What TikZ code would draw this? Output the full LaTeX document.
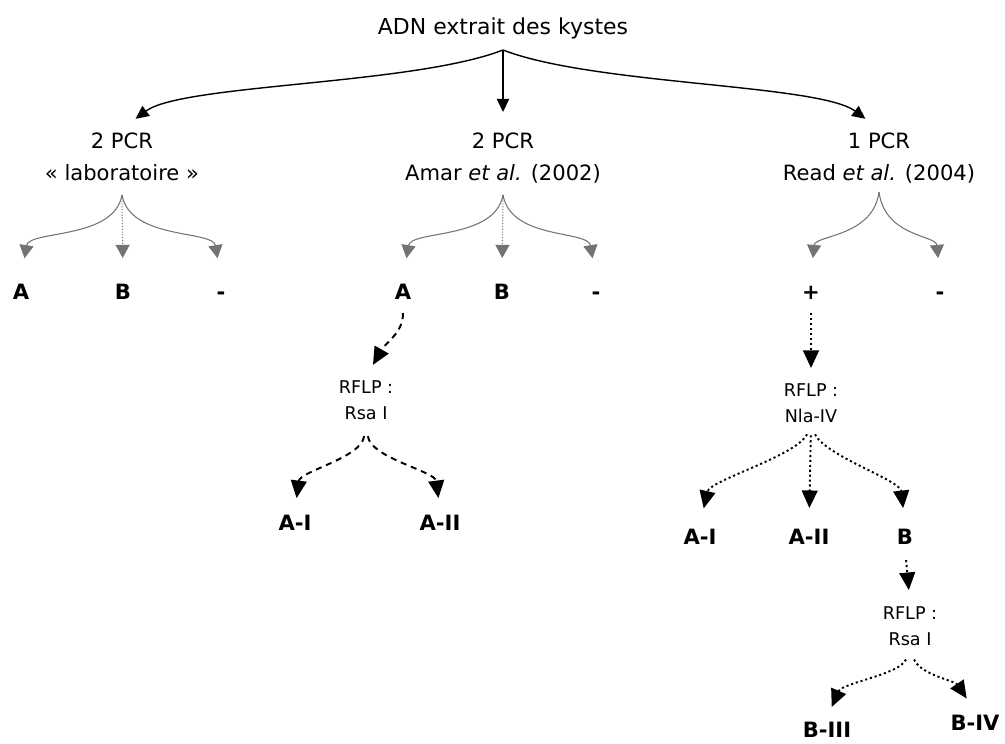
\documentclass[tikz,border=0pt]{standalone}
\usepackage{fontspec}
\setmainfont{DejaVu Sans}
\usetikzlibrary{arrows.meta}

\begin{document}
\begin{tikzpicture}[x = 0.2mm, y = -0.2mm, > = {Triangle[length = 7.5pt, width = 7pt]},
	every node/.style = {inner sep = 2pt},
	pcrnode/.style = {anchor = north, align = center, font = \fontsize{12}{18}\selectfont},
	rflpnode/.style = {anchor = north, align = center, font = \fontsize{10}{14.5}\selectfont},
	resnode/.style = {anchor = north, text height = 8.8pt, text depth = 0pt, font = \fontsize{12}{14}\selectfont\bfseries},
	pcrarrow/.style = {->, black!55, line width = 0.6pt, > = {Triangle[length = 7.5pt, width = 8pt]}, shorten > = 4.4mm},
	rflparrow/.style = {->, line width = 1.1pt, > = {Triangle[length = 10pt, width = 9pt]}},
	dashline/.style = {dash pattern = on 3.4pt off 2.8pt},
	dotline/.style = {dash pattern = on 1.2pt off 1.6pt}]

	\useasboundingbox (0, 0) rectangle (1005, 743);

	\node [pcrnode, font = \fontsize{12.5}{14}\selectfont] (adn) at (503, 14) {ADN extrait des kystes};
	\coordinate (split) at (503, 50);

	\node [pcrnode] (labo) at (122, 129) {2 PCR\\« laboratoire »};
	\node [pcrnode] (amar) at (503, 129) {2 PCR\\Amar \textit{et al.} (2002)};
	\node [pcrnode] (read) at (879, 129) {1 PCR\\Read \textit{et al.} (2004)};

	\begin{scope}[->, line width = 0.8pt, shorten > = 3.4mm]
	
		\draw (split) .. controls +(-90, 35) and +(60, -45) .. (labo.north);
		\draw (split) -- (amar.north);
		\draw (split) .. controls +(90, 35) and +(-60, -45) .. (read.north);
	
	\end{scope}

	% premier niveau
	\coordinate (labosplit) at (122, 195);
	\coordinate (amarsplit) at (503, 195);
	\coordinate (readsplit) at (879, 192);

	\node [resnode] (laboA) at (21, 280) {A};
	\node [resnode] (laboB) at (123, 280) {B};
	\node [resnode] (labominus) at (221, 280) {-};
	\node [resnode] (amarA) at (403, 280) {A};
	\node [resnode] (amarB) at (502, 280) {B};
	\node [resnode] (amarminus) at (596, 280) {-};
	\node [resnode] (readplus) at (811, 280) {+};
	\node [resnode] (readminus) at (940, 280) {-};

	\draw [pcrarrow] (labosplit) .. controls +(-8, 45) and +(8, -50) .. (laboA.north);
	\draw [pcrarrow, densely dotted] (labosplit) -- (laboB.north);
	\draw [pcrarrow] (labosplit) .. controls +(8, 45) and +(-8, -50) .. (labominus.north);

	\draw [pcrarrow] (amarsplit) .. controls +(-8, 45) and +(8, -50) .. (amarA.north);
	\draw [pcrarrow, densely dotted] (amarsplit) -- (amarB.north);
	\draw [pcrarrow] (amarsplit) .. controls +(8, 45) and +(-8, -50) .. (amarminus.north);

	\draw [pcrarrow] (readsplit) .. controls +(-6, 45) and +(4, -45) .. (readplus.north);
	\draw [pcrarrow] (readsplit) .. controls +(6, 45) and +(-4, -45) .. (readminus.north);

	% RFLP Amar
	\node [rflpnode] (rsaA) at (366, 377) {RFLP :\\Rsa I};
	\node [resnode] (rsaAI) at (295, 511) {A-I};
	\node [resnode] (rsaAII) at (440, 511) {A-II};

	\begin{scope}[rflparrow, dashline]
	
		\draw [shorten < = 2mm, shorten > = 2.8mm] (amarA.south) .. controls +(0, 30) and +(20, -35) .. (rsaA.north);
		\draw [shorten < = 2.6mm, shorten > = 2.6mm] (rsaA.south) .. controls +(-5, 35) and +(5, -40) .. (rsaAI.north);
		\draw [shorten < = 2.6mm, shorten > = 2.6mm] (rsaA.south) .. controls +(5, 35) and +(-5, -40) .. (rsaAII.north);
	
	\end{scope}

	% RFLP Read
	\node [rflpnode] (nla) at (811, 380) {RFLP :\\Nla-IV};
	\node [resnode] (nlaAI) at (700, 525) {A-I};
	\node [resnode] (nlaAII) at (809, 525) {A-II};
	\node [resnode] (nlaB) at (905, 525) {B};
	\node [rflpnode] (rsaB) at (910, 603) {RFLP :\\Rsa I};
	\node [resnode] (rsaBIII) at (827, 718) {B-III};
	\node [resnode] (rsaBIV) at (975, 711) {B-IV};

	\begin{scope}[rflparrow, dotline]
	
		\draw [shorten < = 2mm, shorten > = 2.4mm] (readplus.south) -- (nla.north);
		\draw [shorten < = 1.8mm, shorten > = 3.4mm] (nla.south) .. controls +(-15, 30) and +(10, -45) .. (nlaAI.north);
		\draw [shorten < = 1.8mm, shorten > = 3.4mm] (nla.south) -- (nlaAII.north);
		\draw [shorten < = 1.8mm, shorten > = 3.4mm] (nla.south) .. controls +(15, 30) and +(-5, -45) .. (nlaB.north);
		\draw [shorten < = 2.4mm, shorten > = 2.6mm] (nlaB.south) -- (rsaB.north);
		\draw [shorten < = 2.2mm, shorten > = 2.4mm] (rsaB.south) .. controls +(-10, 25) and +(15, -35) .. (rsaBIII.north);
		\draw [shorten < = 2.2mm, shorten > = 3mm] (rsaB.south) .. controls +(10, 25) and +(-20, -30) .. (rsaBIV.north);
	
	\end{scope}

\end{tikzpicture}
\end{document}
